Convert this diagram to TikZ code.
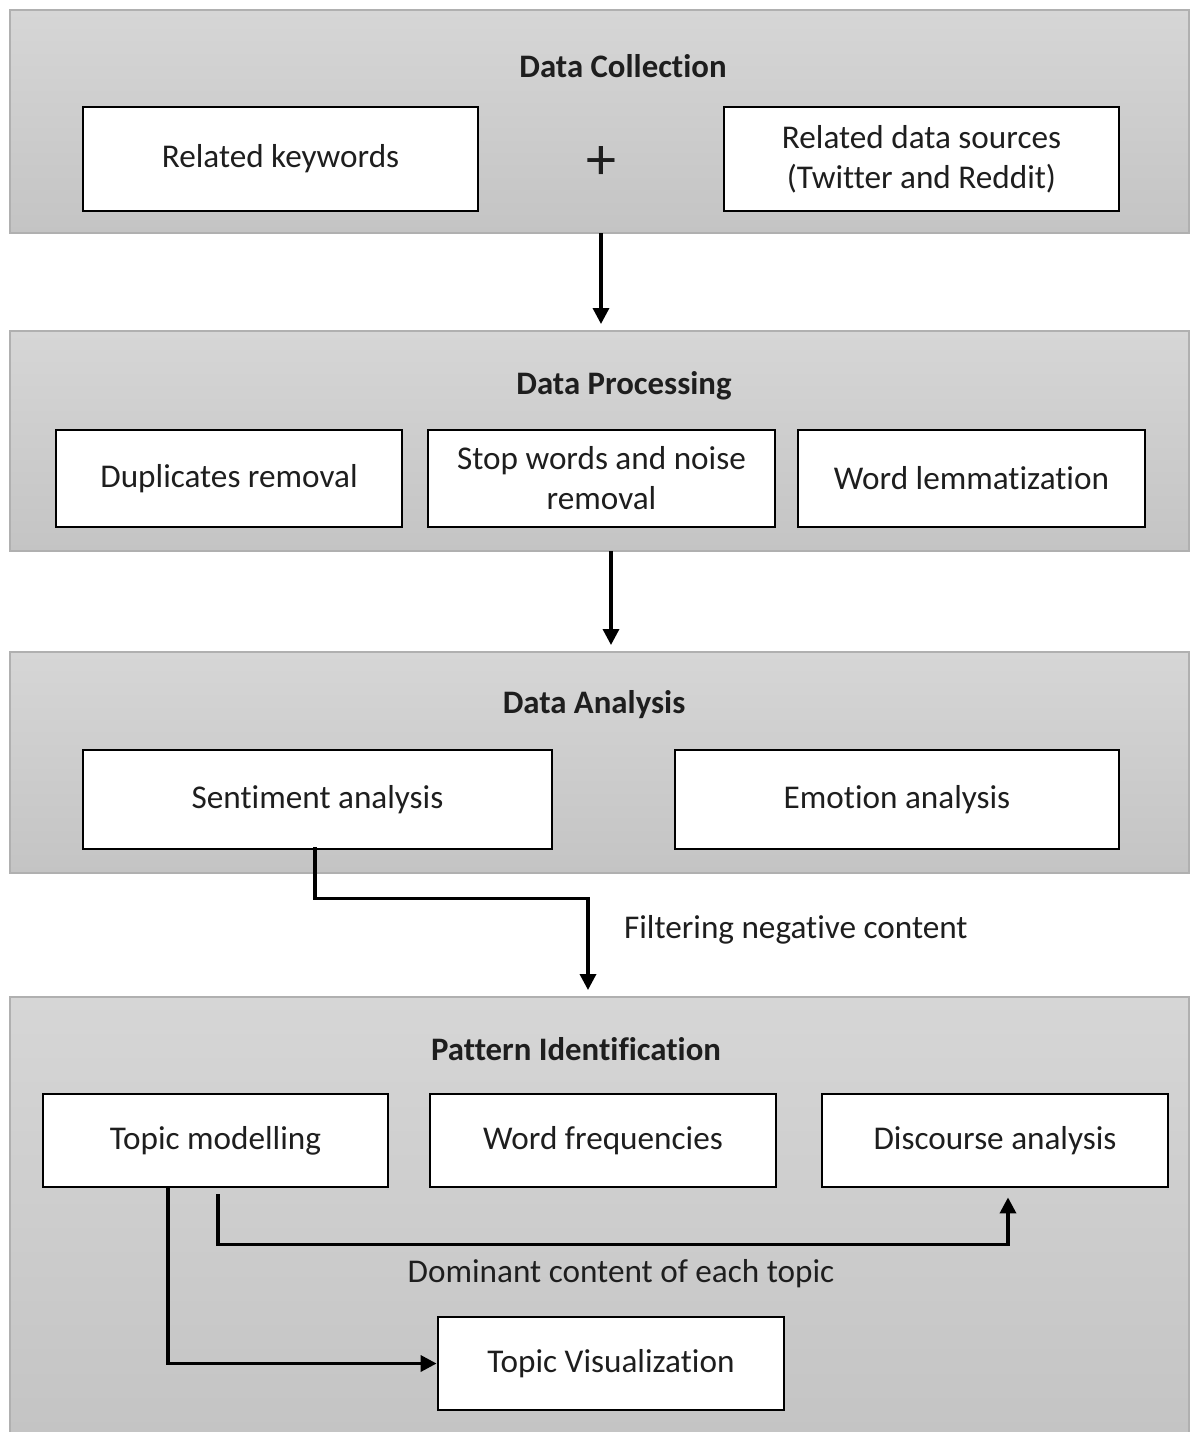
\documentclass[tikz,border=0pt]{standalone}
\usepackage{fontspec}
\setmainfont{Carlito}[Ligatures={NoCommon}]
\usetikzlibrary{arrows.meta,calc}
\definecolor{pantop}{RGB}{214,214,214}
\definecolor{panbot}{RGB}{196,196,196}
\definecolor{panedge}{RGB}{176,176,176}
\definecolor{txt}{RGB}{30,30,30}
\begin{document}
\begin{tikzpicture}[x=0.5pt,y=-0.5pt,
  panel/.style={draw=panedge,line width=1pt,top color=pantop,bottom color=panbot,inner sep=0pt},
  box/.style={draw=black,line width=1.4pt,fill=white,inner sep=2pt,align=center,text=txt,font=\fontsize{16.6}{20}\selectfont},
  ttl/.style={text=txt,font=\fontsize{16.4}{19}\selectfont\bfseries},
  lbl/.style={text=txt,font=\fontsize{16.6}{19}\selectfont},
  conn/.style={line width=1.7pt,-{Triangle[width=8pt,length=8pt]}},
]
\useasboundingbox (0,0) rectangle (1190,1432);
\fill[white] (0,0) rectangle (1190,1432);
% panels
\draw[panel] (10,10) rectangle (1189,233);
\draw[panel] (10,331) rectangle (1189,551);
\draw[panel] (10,652) rectangle (1189,873);
\draw[panel] (10,997) rectangle (1189,1434);
\coordinate (p1s) at (601,233);
\coordinate (p2n) at (601,331);
\coordinate (p2s) at (611,551);
\coordinate (p3n) at (611,652);
\coordinate (p4n) at (588,997);
% Panel 1
\node[ttl] (t1) at (623,66) {Data Collection};
\node[box,minimum width=197.5pt,minimum height=52pt] (kw) at (280.5,159) {Related keywords};
\node[font=\fontsize{30}{30}\selectfont,text=txt] (plus) at (601,163) {+};
\node[box,minimum width=197.5pt,minimum height=52pt] (src) at (921.5,159) {Related data sources\\(Twitter and Reddit)};
% Panel 2
\node[ttl] (t2) at (624,386) {Data Processing};
\node[box,minimum width=173pt,minimum height=48.5pt] (dup) at (229,478.5) {Duplicates removal};
\node[box,minimum width=173.5pt,minimum height=48.5pt] (stop) at (601.5,478.5) {Stop words and noise\\removal};
\node[box,minimum width=173.5pt,minimum height=48.5pt] (lem) at (971.5,478.5) {Word lemmatization};
% Panel 3
\node[ttl] (t3) at (594,705) {Data Analysis};
\node[box,minimum width=234.5pt,minimum height=49.5pt] (sent) at (317.5,799.5) {Sentiment analysis};
\node[box,minimum width=222pt,minimum height=49.5pt] (emo) at (897,799.5) {Emotion analysis};
% Panel 4
\node[ttl] (t4) at (576,1049) {Pattern Identification};
\node[box,minimum width=172.5pt,minimum height=46.5pt] (topic) at (215.5,1140.5) {Topic modelling};
\node[box,minimum width=173pt,minimum height=46.5pt] (freq) at (603,1140.5) {Word frequencies};
\node[box,minimum width=173pt,minimum height=46.5pt] (disc) at (995,1140.5) {Discourse analysis};
\node[box,minimum width=173pt,minimum height=46.5pt] (vis) at (611,1363.5) {Topic Visualization};
% labels
\node[lbl,anchor=west] (filt) at (617,930) {Filtering negative content};
\node[lbl] (dom) at (621,1274) {Dominant content of each topic};
% connectors
\draw[conn,shorten >=3.5pt] (p1s) -- (p2n);
\draw[conn,shorten >=3.5pt] (p2s) -- (p3n);
\draw[conn,shorten >=3.5pt] ([yshift=1.5pt]sent.south -| 315,0) -- ++(0,51) -| (p4n);
\draw[conn,shorten <=3pt,shorten >=4.5pt] (topic.south -| 218,0) -- ++(0,56) -| (disc.south -| 1008,0);
\draw[conn] (topic.south -| 168,0) |- (vis.west);
\end{tikzpicture}
\end{document}
